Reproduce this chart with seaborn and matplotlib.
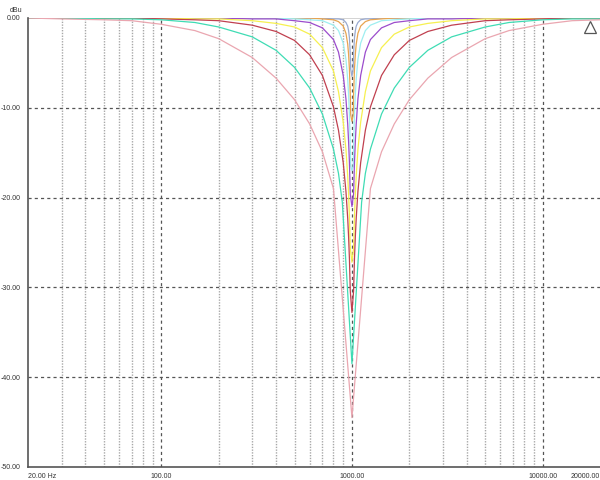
import numpy as np
import pandas as pd
import seaborn as sns
import matplotlib.pyplot as plt

# frequency points (Hz) read along the x axis
grid_hz = [20, 30, 50, 70, 100, 150, 200, 300, 400, 500, 600, 700, 800, 850, 900, 930, 950, 960, 970, 980, 985,
           1000,
           1015, 1020, 1031, 1042, 1053, 1075, 1111, 1176, 1250, 1429, 1667, 2000, 2500, 3333, 5000, 6667, 10000,
           14286, 20000]
mid_hz = [20, 30, 50, 70, 100, 150, 200, 300, 400, 500, 600, 700, 800, 850, 900, 930, 950, 960, 970, 980,
          1000,
          1020, 1031, 1042, 1053, 1075, 1111, 1176, 1250, 1429, 1667, 2000, 2500, 3333, 5000, 6667, 10000,
          14286, 20000]
pink_hz = [20, 30, 50, 70, 100, 150, 200, 300, 400, 500, 600, 700, 800,
           1000,
           1250, 1429, 1667, 2000, 2500, 3333, 5000, 6667, 10000, 14286, 20000]
teal_hz = [20, 30, 50, 70, 100, 150, 200, 300, 400, 500, 600, 700, 800, 850, 890,
           1000,
           1124, 1176, 1250, 1429, 1667, 2000, 2500, 3333, 5000, 6667, 10000, 14286, 20000]

# level (dBu) of each notch curve
pink_db = [0.0, -0.1, -0.2, -0.3, -0.7, -1.4, -2.3, -4.4, -6.7, -9.1, -11.8, -14.9, -19.0,
           -44.5,
           -19.0, -14.9, -11.8, -9.1, -6.7, -4.4, -2.3, -1.4, -0.7, -0.3, -0.2]
teal_db = [0.0, 0.0, -0.1, -0.1, -0.2, -0.5, -1.0, -2.1, -3.6, -5.5, -7.8, -10.7, -14.6, -17.3, -20.5,
           -38.5,
           -20.5, -17.3, -14.6, -10.7, -7.8, -5.5, -3.6, -2.1, -1.0, -0.5, -0.2, -0.1, -0.1]
red_db = [0.0, 0.0, 0.0, 0.0, -0.1, -0.2, -0.3, -0.8, -1.5, -2.5, -4.1, -6.4, -9.9, -12.5, -16.1, -19.3,
          -22.3, -24.3, -26.8, -30.4,
          -32.8,
          -30.4, -26.8, -24.3, -22.3, -19.3, -16.1, -12.5, -9.9, -6.4, -4.1, -2.5, -1.5, -0.8, -0.3,
          -0.2, -0.1, 0.0, 0.0]
yellow_db = [0.0, 0.0, 0.0, 0.0, 0.0, -0.1, -0.1, -0.3, -0.6, -1.0, -1.8, -3.3, -5.9, -8.2, -11.6, -14.6,
             -17.6, -19.5, -22.1, -25.6,
             -27.2,
             -25.6, -22.1, -19.5, -17.6, -14.6, -11.6, -8.2, -5.9, -3.3, -1.8, -1.0, -0.6, -0.3, -0.1,
             -0.1, 0.0, 0.0, 0.0]
purple_db = [0.0, 0.0, 0.0, 0.0, 0.0, 0.0, 0.0, -0.1, -0.1, -0.3, -0.5, -1.1, -2.4, -3.8, -6.4, -9.0,
             -11.8, -13.7, -16.1, -19.6,
             -21.0,
             -19.6, -16.1, -13.7, -11.8, -9.0, -6.4, -3.8, -2.4, -1.1, -0.5, -0.3, -0.1, -0.1, 0.0,
             0.0, 0.0, 0.0, 0.0]
cyan_db = [0.0, 0.0, 0.0, 0.0, 0.0, 0.0, 0.0, 0.0, 0.0, -0.1, -0.2, -0.3, -0.8, -1.4, -2.8, -4.6,
           -6.8, -8.5, -10.7, -14.1, -16.5,
           -17.0,
           -16.5, -14.1, -10.7, -8.5, -6.8, -4.6, -2.8, -1.4, -0.8, -0.3, -0.2, -0.1, 0.0, 0.0, 0.0,
           0.0, 0.0, 0.0, 0.0]
orange_db = [0.0, 0.0, 0.0, 0.0, 0.0, 0.0, 0.0, 0.0, 0.0, 0.0, 0.0, -0.1, -0.2, -0.4, -0.9, -1.7,
             -2.9, -4.0, -5.7, -8.5, -10.8,
             -11.5,
             -10.8, -8.5, -5.7, -4.0, -2.9, -1.7, -0.9, -0.4, -0.2, -0.1, 0.0, 0.0, 0.0, 0.0, 0.0,
             0.0, 0.0, 0.0, 0.0]
grey_db = [0.0, 0.0, 0.0, 0.0, 0.0, 0.0, 0.0, 0.0, 0.0, 0.0, 0.0, 0.0, -0.1, -0.1, -0.2, -0.5,
           -0.9, -1.4, -2.2, -4.0, -5.7,
           -6.5,
           -5.7, -4.0, -2.2, -1.4, -0.9, -0.5, -0.2, -0.1, -0.1, 0.0, 0.0, 0.0, 0.0, 0.0, 0.0,
           0.0, 0.0, 0.0, 0.0]

curve_names = ['grey', 'orange', 'cyan', 'purple', 'yellow', 'red', 'teal', 'pink']
curve_colors = ['#9aaad0', '#e8a450', '#9eeef0', '#9b4ccc', '#f6f050', '#c0404f', '#3fdcb4', '#eaa6b0']

x_ticks = [20, 100, 1000, 10000, 20000]
x_ticklabels = ['20.00 Hz', '100.00', '1000.00', '10000.00', '20000.00']
y_ticks = [0, -10, -20, -30, -40, -50]
y_ticklabels = ['0.00', '-10.00', '-20.00', '-30.00', '-40.00', '-50.00']

curves = [(grid_hz, grey_db), (grid_hz, orange_db), (grid_hz, cyan_db), (mid_hz, purple_db),
          (mid_hz, yellow_db), (mid_hz, red_db), (teal_hz, teal_db), (pink_hz, pink_db)]
frames = []
for name, (hz, vals) in zip(curve_names, curves):
    frames.append(pd.DataFrame({'freq': hz, 'dB': vals, 'curve': name}))
data = pd.concat(frames, ignore_index=True)

sns.set_style('white')
plt.rcParams['font.family'] = ['Liberation Sans', 'DejaVu Sans']

fig = plt.figure(figsize=(6, 4.8), dpi=100)
ax = fig.add_axes([0.0467, 0.0271, 0.9533, 0.9354])

ax.set_xscale('log')

# grid: light dotted minor lines, dark dashed decades and dB lines
minor = [m * d for d in (10, 100, 1000) for m in range(2, 10) if 20 < m * d < 20000]
for f in minor:
    ax.axvline(f, color='#a8a8a8', lw=1.0, ls=(0, (1, 1)), zorder=0)
for f in (100, 1000, 10000):
    ax.axvline(f, color='#555555', lw=0.9, ls=(0, (2.5, 2.5)), zorder=0)
for y in (-10, -20, -30, -40):
    ax.axhline(y, color='#555555', lw=0.9, ls=(0, (2.5, 2.5)), zorder=0)
ax.axhline(0, color='#cccccc', lw=1.2, zorder=0)

sns.lineplot(data=data, x='freq', y='dB', hue='curve', hue_order=curve_names,
             palette=dict(zip(curve_names, curve_colors)),
             estimator=None, sort=False, legend=False, lw=0.9, ax=ax)

# marker triangle at the top right
ax.plot([17700], [-1.0], marker='^', ms=8, mfc='white', mec='#555555', mew=0.9, clip_on=False)

ax.set_xlim(20, 20000)
ax.set_ylim(-50, 0)
ax.set_xticks(x_ticks)
ax.set_xticklabels(x_ticklabels)
ax.set_xticks([], minor=True)
ax.set_yticks(y_ticks)
ax.set_yticklabels(y_ticklabels)
ax.set_xlabel('')
ax.set_ylabel('')
ax.tick_params(axis='x', length=3, width=0.8, color='#555555', pad=1.5, labelsize=5, labelcolor='#333333')
ax.tick_params(axis='y', length=0, pad=5.5, labelsize=5, labelcolor='#333333')
xlabels = ax.get_xticklabels()
xlabels[0].set_horizontalalignment('left')
xlabels[-1].set_horizontalalignment('right')

for side in ('top', 'right'):
    ax.spines[side].set_visible(False)
for side in ('left', 'bottom'):
    ax.spines[side].set_color('#555555')
    ax.spines[side].set_linewidth(1.2)

fig.text(0.017, 0.978, 'dBu', fontsize=5, color='#333333', ha='left', va='center')

fig.savefig('out.png', dpi=100)
